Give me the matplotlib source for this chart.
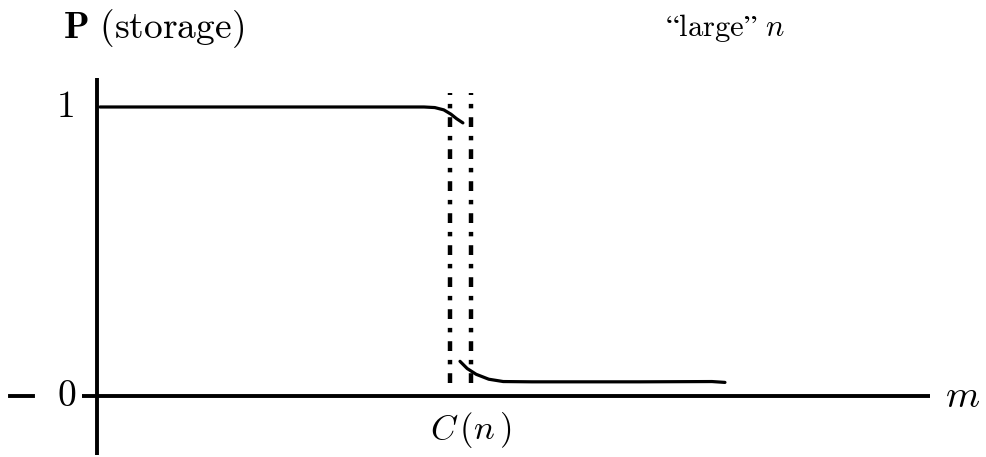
import matplotlib
matplotlib.use("Agg")
import matplotlib.pyplot as plt

plt.rcParams["mathtext.fontset"] = "cm"

# Storage probability for "large" n: stays near 1 below C(n), drops to near 0 above it
m_upper = [0.0, 0.60, 0.90, 0.93, 0.955, 0.975, 0.99, 1.008]
p_upper = [1.0, 1.0, 1.0, 0.998, 0.99, 0.975, 0.96, 0.945]

m_lower = [1.0, 1.02, 1.045, 1.08, 1.12, 1.20, 1.50, 1.70, 1.736]
p_lower = [0.12, 0.095, 0.075, 0.058, 0.05, 0.049, 0.049, 0.05, 0.047]

# Transition band bounds around C(n)
band = [0.972, 1.031]
c_n = 1.0

fig = plt.figure(figsize=(9.87, 4.57), dpi=100)
ax = fig.add_axes([0, 0, 1, 1])
ax.set_xlim(-0.2778, 2.4639)
ax.set_ylim(-0.2111, 1.3702)
ax.axis("off")

# axes drawn as plain lines
ax.plot([-0.05, 2.306], [0, 0], color="black", lw=2.8, solid_capstyle="butt")
ax.plot([-0.008, -0.008], [-0.204, 1.10], color="black", lw=2.8, solid_capstyle="butt")

# curves
ax.plot(m_upper, p_upper, color="black", lw=2.3, solid_capstyle="round")
ax.plot(m_lower, p_lower, color="black", lw=2.3, solid_capstyle="round")

# dash-dot band lines
for xb in band:
    ax.plot([xb, xb], [0.045, 1.05], color="black", lw=3.2,
            linestyle=(0, (2.2, 2.0, 1.0, 2.0)))

# labels
ax.text(-0.103, 1.273, r"$\mathbf{P}\ \mathrm{(storage)}$", fontsize=27,
        ha="left", va="center")
ax.text(1.569, 1.273, "$\\mathrm{\u201clarge\u201d}\\ n$", fontsize=22,
        ha="left", va="center")
ax.text(-0.097, 1.0, r"$1$", fontsize=27, ha="center", va="center")
ax.text(-0.092, 0.0, r"$0$", fontsize=27, ha="center", va="center")
ax.plot([-0.25, -0.185], [0.0, 0.0], color="black", lw=2.8)
ax.text(2.397, 0.0, r"$m$", fontsize=28, ha="center", va="center")
ax.text(1.03, -0.118, r"$C\,(n\,)$", fontsize=25, ha="center", va="center")

fig.savefig("out.png", dpi=100)
